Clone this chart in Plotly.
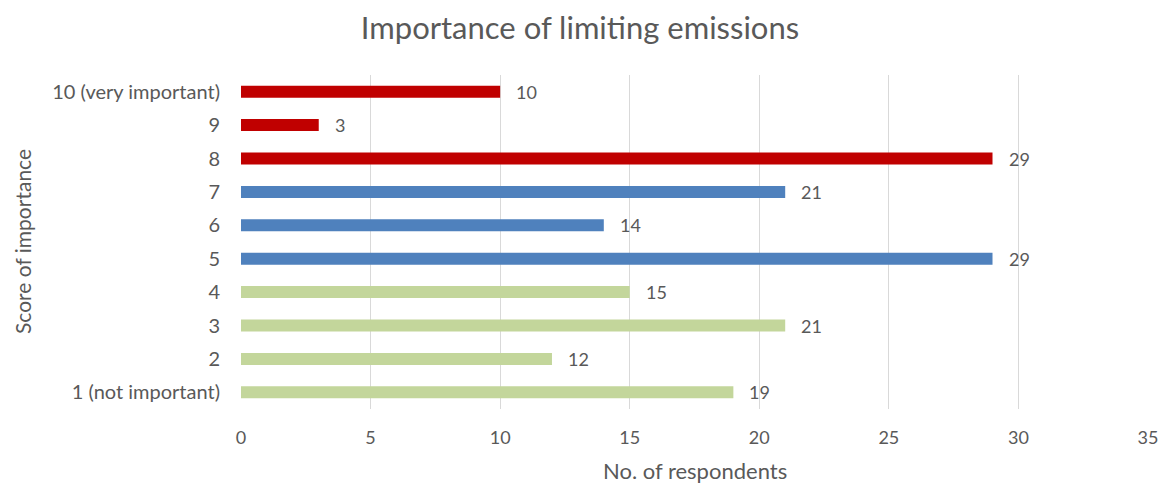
import plotly.graph_objects as go

# Survey scores (bottom to top) and respondent counts
scores = ["1 (not important)", "2", "3", "4", "5", "6", "7", "8", "9", "10 (very important)"]
respondents = [19, 12, 21, 15, 29, 14, 21, 29, 3, 10]
bar_colors = ["#C3D69B"] * 4 + ["#4F81BD"] * 3 + ["#C00000"] * 3
x_ticks = [0, 5, 10, 15, 20, 25, 30, 35]

FONT = "Lato, Carlito, Calibri, sans-serif"
GREY = "#595959"

fig = go.Figure(
    go.Bar(
        x=respondents,
        y=scores,
        orientation="h",
        width=0.36,
        marker=dict(color=bar_colors, line=dict(width=0)),
        hoverinfo="x+y",
    )
)

# Value labels just right of each bar end (y given as category index)
for i, v in enumerate(respondents):
    fig.add_annotation(
        x=v, y=i, text=str(v), showarrow=False,
        xanchor="left", xshift=14,
        font=dict(family=FONT, size=18, color=GREY),
    )

# Axis titles
fig.add_annotation(
    text="Score of importance", xref="paper", yref="paper",
    x=0, y=0.5, xshift=-219, textangle=-90, showarrow=False,
    xanchor="center", yanchor="middle",
    font=dict(family=FONT, size=21, color=GREY),
)
fig.add_annotation(
    text="No. of respondents", xref="paper", yref="paper",
    x=0.5, y=0, yshift=-61, showarrow=False,
    xanchor="center", yanchor="middle",
    font=dict(family=FONT, size=22, color=GREY),
)

fig.update_layout(
    width=1160,
    height=484,
    margin=dict(l=241, r=12, t=75, b=75),
    paper_bgcolor="white",
    plot_bgcolor="white",
    showlegend=False,
    title=dict(
        text="Importance of limiting emissions",
        x=0.5, xref="container", xanchor="center",
        y=0.942, yanchor="middle",
        font=dict(family=FONT, size=31, color=GREY),
    ),
    xaxis=dict(
        range=[0, 35],
        tickvals=x_ticks,
        automargin=False,
        showgrid=True,
        gridcolor="#D9D9D9",
        gridwidth=1,
        zeroline=False,
        showline=False,
        ticks="",
        tickfont=dict(family=FONT, size=18, color=GREY),
        ticklabelstandoff=16,
    ),
    yaxis=dict(
        categoryorder="array",
        categoryarray=scores,
        automargin=False,
        showgrid=False,
        zeroline=False,
        showline=False,
        ticks="",
        ticklabelstandoff=20,
        tickfont=dict(family=FONT, size=20, color=GREY),
    ),
)

fig.write_html("out.html")
